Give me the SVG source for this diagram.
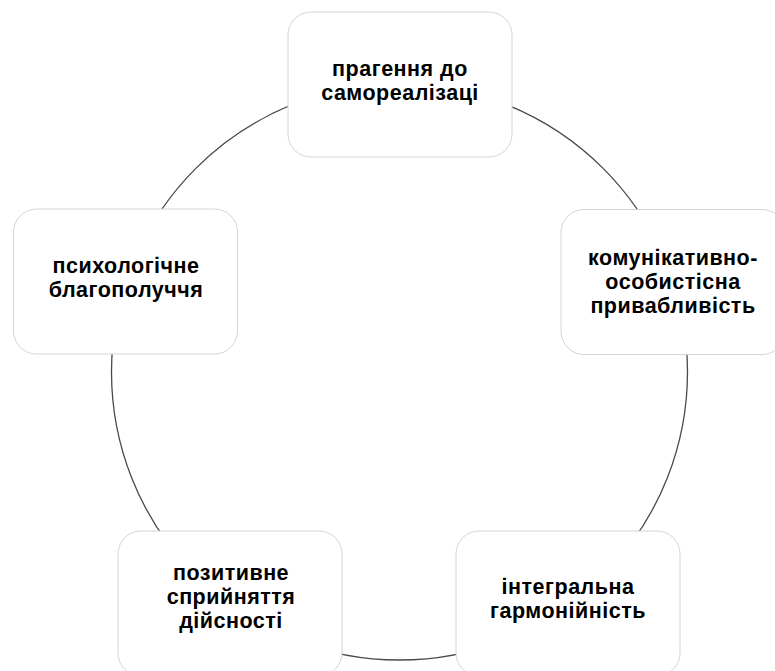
<svg xmlns="http://www.w3.org/2000/svg" width="775" height="671" viewBox="0 0 775 671">
<style>
.box{fill:#ffffff;stroke:#d4d4d4;stroke-width:1}
.lbl{font-family:"Liberation Sans",Arial,sans-serif;font-size:21.5px;font-weight:bold;letter-spacing:0.5px;fill:#000000;text-anchor:middle}
.ring{fill:none;stroke:#4a4a4a;stroke-width:1.3}
</style>
<rect width="775" height="671" fill="#ffffff"/>
<g id="connectors">
<circle class="ring" cx="399.5" cy="372" r="288"/>
</g>
<g id="node-top">
<rect class="box" x="288" y="12" width="224" height="145" rx="23"/>
<text class="lbl" x="400" y="76.1">прагення до</text>
<text class="lbl" x="400" y="100.2">самореалізаці</text>
</g>
<g id="node-right">
<rect class="box" x="561" y="209.5" width="224" height="145" rx="23"/>
<text class="lbl" x="673" y="265">комунікативно-</text>
<text class="lbl" x="673" y="289.1">особистісна</text>
<text class="lbl" x="673" y="313.2">привабливість</text>
</g>
<g id="node-bottom-right">
<rect class="box" x="456" y="531" width="224" height="145" rx="23"/>
<text class="lbl" x="568" y="594">інтегральна</text>
<text class="lbl" x="568" y="618.1">гармонійність</text>
</g>
<g id="node-bottom-left">
<rect class="box" x="118" y="531" width="224" height="145" rx="23"/>
<text class="lbl" x="231" y="579.6">позитивне</text>
<text class="lbl" x="231" y="603.7">сприйняття</text>
<text class="lbl" x="231" y="627.8">дійсності</text>
</g>
<g id="node-left">
<rect class="box" x="13.5" y="209" width="224" height="145" rx="23"/>
<text class="lbl" x="126" y="273.2">психологічне</text>
<text class="lbl" x="126" y="297.3">благополуччя</text>
</g>
</svg>
